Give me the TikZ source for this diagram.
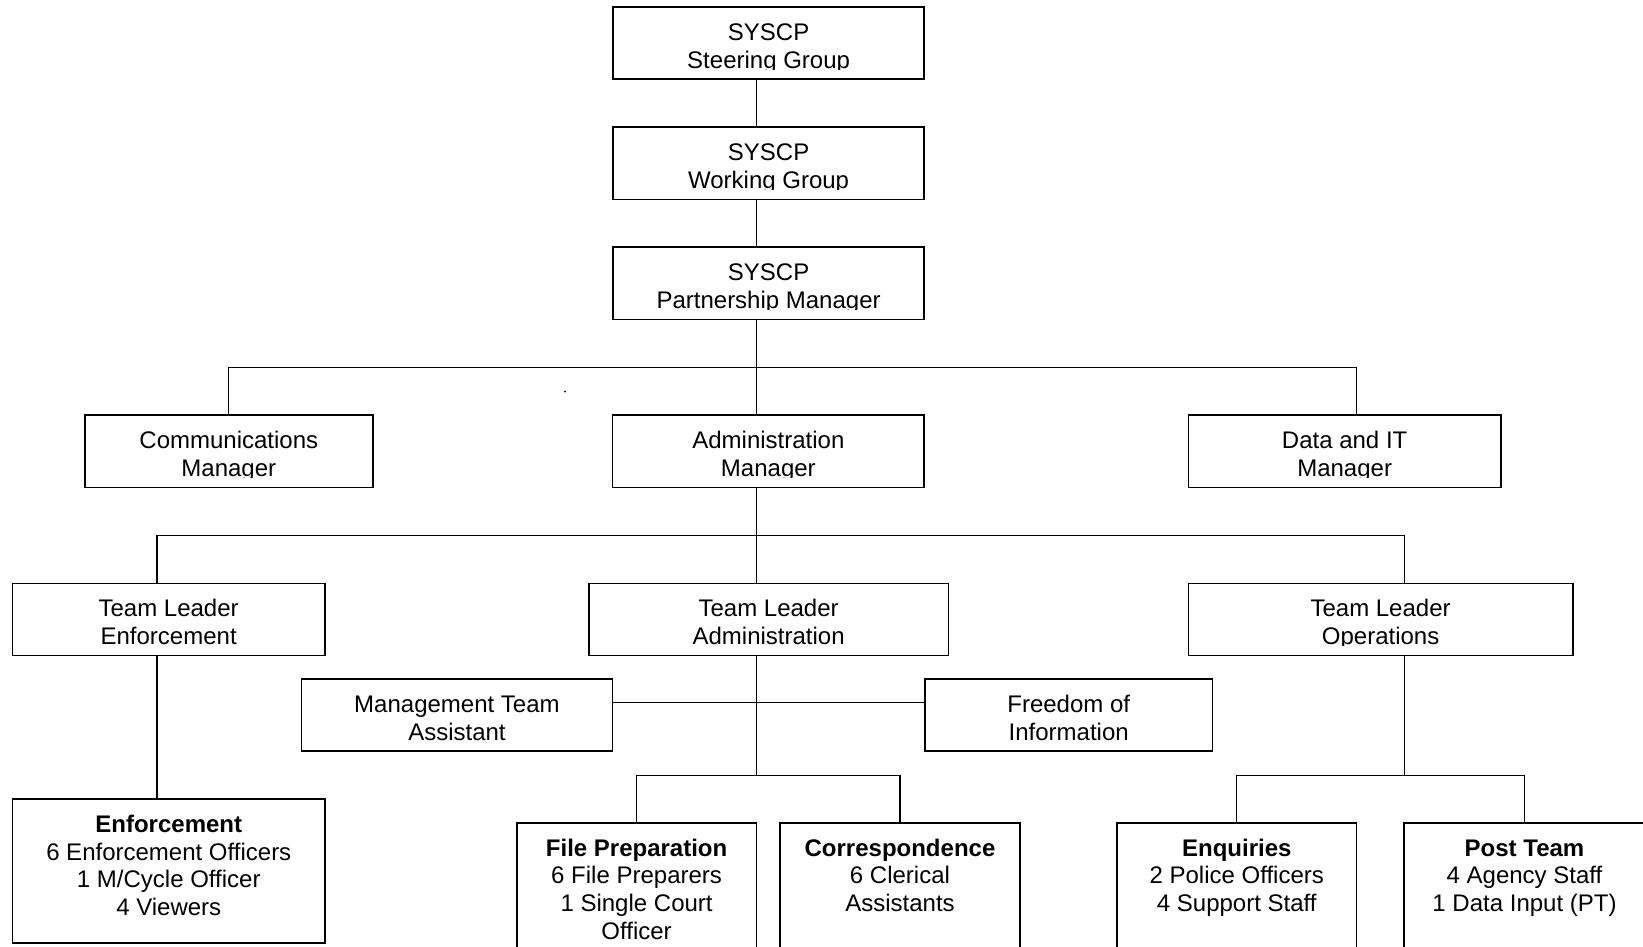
\documentclass[tikz,border=0pt]{standalone}
\usepackage{fontspec}
\setmainfont{Liberation Sans}
\usetikzlibrary{fit}
\newcommand\orglines[1]{\begin{tabular}[t]{@{}c@{}}#1\end{tabular}}
% name, x1, y1, x2, y2, clip limit (y), text
\newcommand\orgbox[7]{%
  \node[box, fit={(#2,#3)(#4,#5)}] (#1) {};
  \begin{scope}
    \clip (#2,#3) rectangle (#4,#6);
    \node[txt] (#1-t) at ({(#2+#4)/2},{#3+33.5}) {\orglines{#7}};
  \end{scope}}
\tikzset{
  box/.style={draw, line width=0.8pt, inner sep=0pt},
  txt/.style={anchor=base, inner sep=0pt, font=\fontsize{12}{13.8}\selectfont},
  conn/.style={draw, line width=0.65pt}
}
\begin{document}
\begin{tikzpicture}[x=0.5pt, y=-0.5pt]
\useasboundingbox (0,0) rectangle (1643,947);
\clip (0,0) rectangle (1643,947);

% boxes
\orgbox{sg}{613}{7.3}{924.2}{79.3}{69.3}{SYSCP\\Steering Group}
\orgbox{wg}{613}{127}{924.2}{199.3}{189}{SYSCP\\Working Group}
\orgbox{pm}{613}{247}{924.2}{319.3}{309}{SYSCP\\Partnership Manager}
\orgbox{cm}{84.7}{415}{372.9}{487.3}{477}{Communications\\Manager}
\orgbox{am}{612.5}{415}{924.2}{487.3}{477}{Administration\\Manager}
\orgbox{dm}{1188.5}{415}{1500.8}{487.3}{477}{Data and IT\\Manager}
\orgbox{tle}{12.5}{583.3}{324.8}{655.3}{645.3}{Team Leader\\Enforcement}
\orgbox{tla}{589}{583.3}{948.3}{655.3}{645.3}{Team Leader\\Administration}
\orgbox{tlo}{1188.5}{583.3}{1572.7}{655.3}{645.3}{Team Leader\\Operations}
\orgbox{mt}{301.4}{679}{612.5}{751}{741}{Management Team\\Assistant}
\orgbox{fi}{924.8}{679}{1212.6}{751}{741}{Freedom of\\Information}
\orgbox{ef}{12.5}{799}{325}{943}{1000}{\textbf{Enforcement}\\6 Enforcement Officers\\1 M/Cycle Officer\\4 Viewers}
\orgbox{fp}{516.8}{822.7}{756.4}{990}{1000}{\textbf{File Preparation}\\6 File Preparers\\1 Single Court\\Officer}
\orgbox{co}{780}{822.7}{1020}{990}{1000}{\textbf{Correspondence}\\6 Clerical\\Assistants}
\orgbox{en}{1117}{822.7}{1356.5}{990}{1000}{\textbf{Enquiries}\\2 Police Officers\\4 Support Staff}
\orgbox{pt}{1404}{822.7}{1645}{990}{1000}{\textbf{Post Team}\\4 Agency Staff\\1 Data Input (PT)}

% junctions and connector lines
\coordinate (tx) at (756.5,0);
\coordinate (j1) at (756.5,367.7);
\coordinate (j2) at (756.5,535.3);
\coordinate (j3) at (756.5,775.3);
\coordinate (j4) at (1404.8,775.3);
\coordinate (dmx) at (1356.5,0);
\coordinate (tlex) at (156.9,0);
\coordinate (tlox) at (1404.8,0);
\coordinate (sy) at (0,702.7);

\draw[conn] (sg.south -| tx) -- (wg.north -| tx);
\draw[conn] (wg.south -| tx) -- (pm.north -| tx);
\draw[conn] (pm.south -| tx) -- (am.north -| tx);
\draw[conn] (cm.north) |- (j1) -| (dm.north -| dmx);

\draw[conn] (am.south -| tx) -- (tla.north -| tx);
\draw[conn] (tle.north -| tlex) |- (j2) -| (tlo.north -| tlox);

\draw[conn] (tla.south -| tx) -- (j3);
\draw[conn] (mt.east |- sy) -- (fi.west |- sy);
\draw[conn] (fp.north) |- (j3) -| (co.north);

\draw[conn] (tle.south -| tlex) -- (ef.north -| tlex);

\draw[conn] (tlo.south -| tlox) -- (j4);
\draw[conn] (en.north) |- (j4) -| (pt.north);

% stray dot
\coordinate (dot) at (565,391.6);
\fill (dot) circle (1);
\end{tikzpicture}
\end{document}
